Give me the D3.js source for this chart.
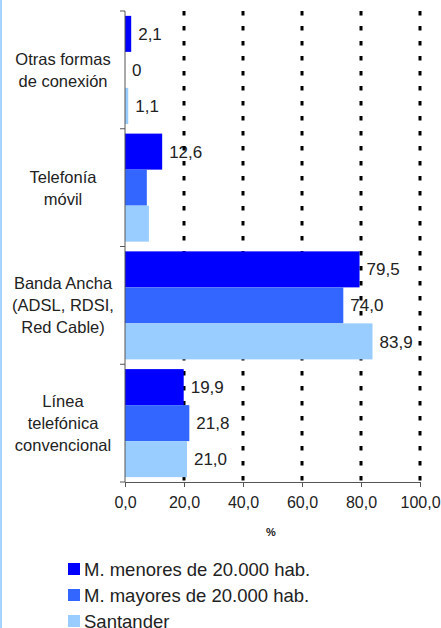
<!DOCTYPE html>
<html>
<head>
<meta charset="utf-8">
<script src="https://cdn.jsdelivr.net/npm/d3@7"></script>
<style>
html,body{margin:0;padding:0;background:#fff;}
svg{display:block;font-family:"Liberation Sans",Arial,sans-serif;}
</style>
</head>
<body>
<svg id="chart" width="441" height="628"></svg>
<script>
const categories = [
  ["Otras formas", "de conexión"],
  ["Telefonía", "móvil"],
  ["Banda Ancha", "(ADSL, RDSI,", "Red Cable)"],
  ["Línea", "telefónica", "convencional"]
];
const seriesNames = ["M. menores de 20.000 hab.", "M. mayores de 20.000 hab.", "Santander"];
const seriesColors = ["#0000FF", "#3366FF", "#99CCFF"];
const valuesMenores = [2.1, 12.6, 79.5, 19.9];
const valuesMayores = [0, 7.4, 74.0, 21.8];
const valuesSantander = [1.1, 8.1, 83.9, 21.0];
const labelsMenores = ["2,1", "12,6", "79,5", "19,9"];
const labelsMayores = ["0", null, "74,0", "21,8"];
const labelsSantander = ["1,1", null, "83,9", "21,0"];
const xTicks = [0, 20, 40, 60, 80, 100];
const xTickLabels = ["0,0", "20,0", "40,0", "60,0", "80,0", "100,0"];
const axisTitle = "%";

(function () {
const allValues = [valuesMenores, valuesMayores, valuesSantander];
const allLabels = [labelsMenores, labelsMayores, labelsSantander];
const catKeys = categories.map((c, i) => "c" + i);

const svg = d3.select("#chart");
const mLeft = 125, mRight = 420, mTop = 11, mBottom = 482;

// left border
svg.append("rect").attr("x", 0).attr("y", 0).attr("width", 2).attr("height", 628).attr("fill", "#A6D2FF");

const x = d3.scaleLinear().domain([0, 100]).range([mLeft, mRight]);
const y0 = d3.scaleBand().domain(catKeys).range([mTop, mBottom]).padding(0);
const y1 = d3.scaleBand().domain(seriesNames).range([0, y0.bandwidth()]).paddingInner(0).paddingOuter(0.135);

// value labels (drawn beneath gridlines as in reference)
const gLabels = svg.append("g");
seriesNames.forEach((s, si) => {
  allValues[si].forEach((v, ci) => {
    const lab = allLabels[si][ci];
    if (lab == null) return;
    gLabels.append("text")
      .attr("x", x(v) + 7)
      .attr("y", y0(catKeys[ci]) + y1(s) + y1.bandwidth() / 2)
      .attr("dy", "0.36em")
      .attr("font-size", 17)
      .attr("fill", "#222")
      .text(lab);
  });
});

// gridlines
svg.append("g").selectAll("line").data(xTicks.filter(t => t > 0)).join("line")
  .attr("x1", d => x(d)).attr("x2", d => x(d))
  .attr("y1", mTop).attr("y2", mBottom)
  .attr("stroke", "#000").attr("stroke-width", 3)
  .attr("stroke-dasharray", "4.5,10.5");

// bars
const gBars = svg.append("g");
seriesNames.forEach((s, si) => {
  gBars.selectAll(null).data(allValues[si]).join("rect")
    .attr("x", x(0))
    .attr("y", (d, ci) => y0(catKeys[ci]) + y1(s))
    .attr("width", d => x(d) - x(0))
    .attr("height", y1.bandwidth())
    .attr("fill", seriesColors[si]);
});

// axes
const xAxis = d3.axisBottom(x).tickValues(xTicks).tickFormat((d, i) => xTickLabels[i]).tickSize(5).tickPadding(10);
const gx = svg.append("g").attr("transform", `translate(0,${mBottom})`).call(xAxis);
gx.select(".domain").attr("stroke", "#555");
gx.selectAll(".tick line").attr("stroke", "#555");
gx.selectAll("text").attr("font-size", 16).attr("fill", "#222").attr("font-family", "Liberation Sans, Arial, sans-serif");

const gy = svg.append("g");
gy.append("line").attr("x1", mLeft).attr("x2", mLeft).attr("y1", mTop).attr("y2", mBottom).attr("stroke", "#555");
const bounds = catKeys.map(k => y0(k)).concat([mBottom]);
gy.selectAll("line.t").data(bounds).join("line").attr("class", "t")
  .attr("x1", mLeft - 5).attr("x2", mLeft).attr("y1", d => d).attr("y2", d => d).attr("stroke", "#555");

// category labels
const lineH = 22;
categories.forEach((lines, ci) => {
  const cy = y0(catKeys[ci]) + y0.bandwidth() / 2;
  const t = svg.append("text").attr("text-anchor", "middle").attr("font-size", 16.5).attr("fill", "#222");
  lines.forEach((ln, li) => {
    t.append("tspan").attr("x", 63)
      .attr("y", cy + (li - (lines.length - 1) / 2) * lineH)
      .attr("dy", "0.36em").text(ln);
  });
});

// axis title
svg.append("text").attr("x", 271).attr("y", 532).attr("dy", "0.36em").attr("text-anchor", "middle")
  .attr("font-size", 11).attr("font-weight", "bold").attr("fill", "#222").text(axisTitle);

// legend
const leg = svg.append("g");
seriesNames.forEach((s, i) => {
  const cy = 569 + i * 26;
  leg.append("rect").attr("x", 68).attr("y", cy - 6).attr("width", 12).attr("height", 12).attr("fill", seriesColors[i]);
  leg.append("text").attr("x", 84).attr("y", cy).attr("dy", "0.36em").attr("font-size", 18.5).attr("fill", "#222").text(s);
});
})();
</script>
</body>
</html>
